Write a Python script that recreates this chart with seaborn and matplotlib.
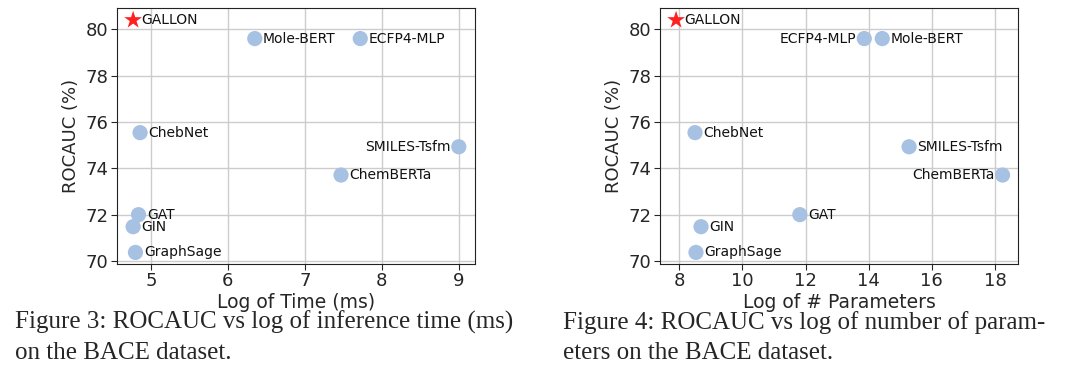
import matplotlib
matplotlib.use("Agg")
import matplotlib.pyplot as plt
import seaborn as sns
import pandas as pd

models = ["GALLON", "Mole-BERT", "ECFP4-MLP", "ChebNet", "SMILES-Tsfm",
          "ChemBERTa", "GAT", "GIN", "GraphSage"]
rocauc = [80.4, 79.6, 79.6, 75.54, 74.93, 73.71, 72.0, 71.48, 70.37]
log_time = [4.77, 6.35, 7.72, 4.86, 9.0, 7.47, 4.84, 4.77, 4.80]
log_params = [7.9, 14.43, 13.86, 8.5, 15.28, 18.24, 11.82, 8.69, 8.53]

# labels placed on the left of the point
left_time = {"SMILES-Tsfm"}
left_params = {"ECFP4-MLP", "ChemBERTa"}

df = pd.DataFrame({"model": models, "rocauc": rocauc,
                   "log_time": log_time, "log_params": log_params})

sns.set_style("ticks")
plt.rcParams["font.family"] = ["DejaVu Sans"]

fig = plt.figure(figsize=(10.8, 3.72), dpi=100)
ax1 = fig.add_axes([0.1083, 0.2903, 0.3315, 0.6882])
ax2 = fig.add_axes([0.6111, 0.2903, 0.3315, 0.6882])

blue = "#a7c1e3"
star_red = "#ff2020"

def draw(ax, xcol, left_set, xlabel, xlim, xticks):
    ax.set_axisbelow(True)
    ax.grid(True, color="#cccccc", linewidth=1.0)
    others = df[df.model != "GALLON"]
    gal = df[df.model == "GALLON"]
    sns.scatterplot(data=others, x=xcol, y="rocauc", ax=ax, color=blue,
                    s=120, edgecolor="none", zorder=3)
    sns.scatterplot(data=gal, x=xcol, y="rocauc", ax=ax, color=star_red,
                    marker="*", s=180, edgecolor="none", zorder=4)
    for m, xv, yv in zip(df.model, df[xcol], df.rocauc):
        if m in left_set:
            ax.annotate(m, (xv, yv), xytext=(-6, 0), textcoords="offset points",
                        ha="right", va="center", fontsize=10, color="#111111")
        else:
            ax.annotate(m, (xv, yv), xytext=(6, 0), textcoords="offset points",
                        ha="left", va="center", fontsize=10, color="#111111")
    ax.set_xlim(*xlim)
    ax.set_ylim(69.87, 80.92)
    ax.set_xticks(xticks)
    ax.set_yticks([70, 72, 74, 76, 78, 80])
    ax.set_xlabel(xlabel, fontsize=13.5, labelpad=2)
    ax.set_ylabel("ROCAUC (%)", fontsize=13, labelpad=4)
    ax.tick_params(labelsize=13, length=4, width=0.8, pad=2)
    for sp in ax.spines.values():
        sp.set_color("#222222")
        sp.set_linewidth(0.8)
        sp.set_visible(True)

draw(ax1, "log_time", left_time, "Log of Time (ms)", (4.56, 9.21), [5, 6, 7, 8, 9])
draw(ax2, "log_params", left_params, "Log of # Parameters", (7.39, 18.73),
     [8, 10, 12, 14, 16, 18])

cap_font = ["Liberation Serif", "DejaVu Serif"]
cap_size = 18
fig.text(0.0139, 1 - 329 / 372, "Figure 3: ROCAUC vs log of inference time (ms)",
         fontsize=cap_size, family=cap_font, ha="left", va="baseline")
fig.text(0.0139, 1 - 359 / 372, "on the BACE dataset.",
         fontsize=cap_size, family=cap_font, ha="left", va="baseline")
fig.text(0.521, 1 - 329 / 372, "Figure 4: ROCAUC vs log of number of param-",
         fontsize=cap_size, family=cap_font, ha="left", va="baseline")
fig.text(0.521, 1 - 359 / 372, "eters on the BACE dataset.",
         fontsize=cap_size, family=cap_font, ha="left", va="baseline")

fig.savefig("out.png", dpi=100)
